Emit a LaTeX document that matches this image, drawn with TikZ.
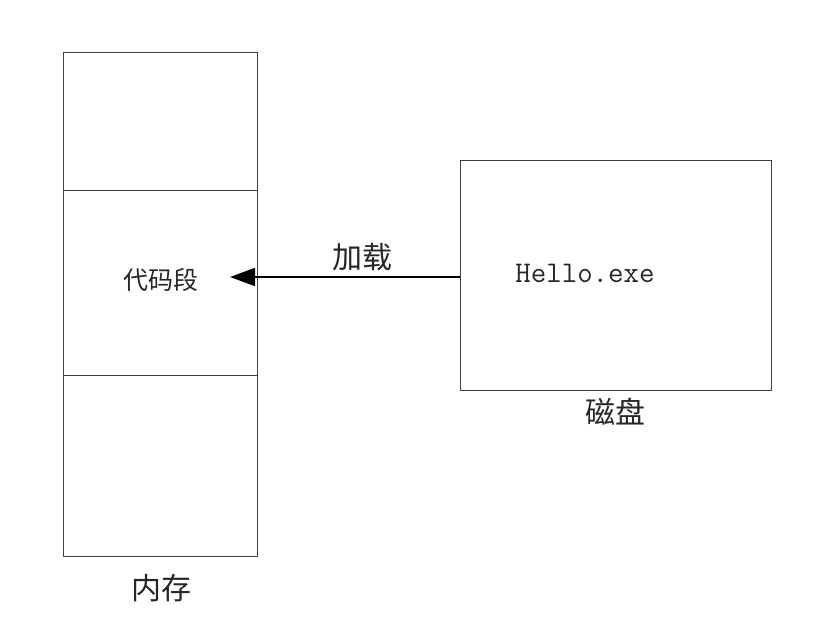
\documentclass[tikz,border=0pt]{standalone}
\usepackage{fontspec}
\newfontfamily\cjk{Noto Sans CJK SC}[Scale=1]
\usetikzlibrary{arrows.meta}
\begin{document}
\begin{tikzpicture}[x=1pt,y=-1pt,
  cell/.style={draw=black!75,line width=0.8pt,fill=none},
  lbl/.style={font=\cjk\fontsize{#1}{#1}\selectfont,inner sep=0pt,text=black!85},
  conn/.style={line width=1.6pt,-{Triangle[length=25pt,width=18pt]}}]
\useasboundingbox (0,0) rectangle (829,617);
% memory column
\draw[cell] (63,52) rectangle (257,190);
\draw[cell] (63,190) rectangle (257,375);
\draw[cell] (63,375) rectangle (257,556);
\node[inner sep=0pt,minimum width=194pt,minimum height=185pt] (mid) at (160,282.5) {};
% disk
\draw[cell] (460,160) rectangle (771,390);
\node[inner sep=0pt,minimum width=311pt,minimum height=230pt] (disk) at (615.5,275) {};
% labels
\node[lbl=25] (code) at (161,280) {代码段};
\node[lbl=30] (load) at (362,257) {加载};
\node[inner sep=0pt,font=\ttfamily\fontsize{30}{30}\selectfont,text=black!85] (hello) at (585,273) {Hello.exe};
\node[lbl=30] (diskl) at (615,412) {磁盘};
\node[lbl=30] (meml) at (161,588) {内存};
% connector
\coordinate (tip) at (230,277);
\draw[conn] (disk.west |- tip) -- (tip);
\end{tikzpicture}
\end{document}
